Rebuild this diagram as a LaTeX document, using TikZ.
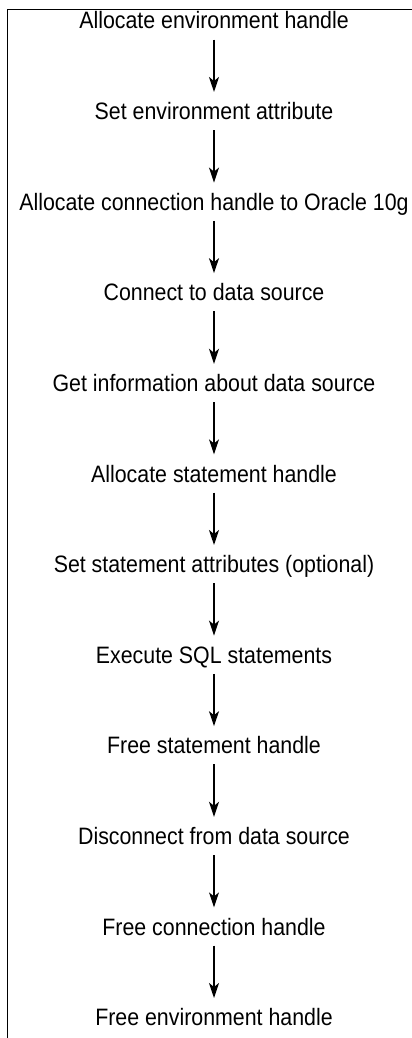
\documentclass[tikz,border=0pt]{standalone}
\usepackage{fontspec}
\setmainfont[FakeStretch=0.9]{Liberation Sans}
\usetikzlibrary{arrows.meta}

\begin{document}
\begin{tikzpicture}[>={Stealth[length=0.3cm, width=0.2cm, inset=0.08cm]}, line width=0.7pt,
    font=\fontsize{13.5}{16}\selectfont,
    stepbox/.style={inner sep=0pt, anchor=base, text height=0.35cm, text depth=0.2cm},
    flow/.style={->, shorten >=0.19cm}]

\useasboundingbox (0,0) rectangle (8.24,-20.76);

% Rahmen (nur oben und links)
\draw (0.15,-20.76) |- (8.24,-0.19);

% Schritte
\node[stepbox] (envAlloc)   at (4.28, -0.58)  {Allocate environment handle};
\node[stepbox] (envAttr)    at (4.28, -2.392) {Set environment attribute};
\node[stepbox] (conAlloc)   at (4.28, -4.204) {Allocate connection handle to Oracle 10g};
\node[stepbox] (connect)    at (4.28, -6.016) {Connect to data source};
\node[stepbox] (getInfo)    at (4.28, -7.828) {Get information about data source};
\node[stepbox] (stmtAlloc)  at (4.28, -9.64)  {Allocate statement handle};
\node[stepbox] (stmtAttr)   at (4.28, -11.452) {Set statement attributes (optional)};
\node[stepbox] (execSQL)    at (4.28, -13.264) {Execute SQL statements};
\node[stepbox] (stmtFree)   at (4.28, -15.076) {Free statement handle};
\node[stepbox] (disconnect) at (4.28, -16.888) {Disconnect from data source};
\node[stepbox] (conFree)    at (4.28, -18.7) {Free connection handle};
\node[stepbox] (envFree)    at (4.28, -20.512) {Free environment handle};

% Pfeile
\draw[flow] (envAlloc) -- (envAttr);
\draw[flow] (envAttr) -- (conAlloc);
\draw[flow] (conAlloc) -- (connect);
\draw[flow] (connect) -- (getInfo);
\draw[flow] (getInfo) -- (stmtAlloc);
\draw[flow] (stmtAlloc) -- (stmtAttr);
\draw[flow] (stmtAttr) -- (execSQL);
\draw[flow] (execSQL) -- (stmtFree);
\draw[flow] (stmtFree) -- (disconnect);
\draw[flow] (disconnect) -- (conFree);
\draw[flow] (conFree) -- (envFree);

\end{tikzpicture}
\end{document}
